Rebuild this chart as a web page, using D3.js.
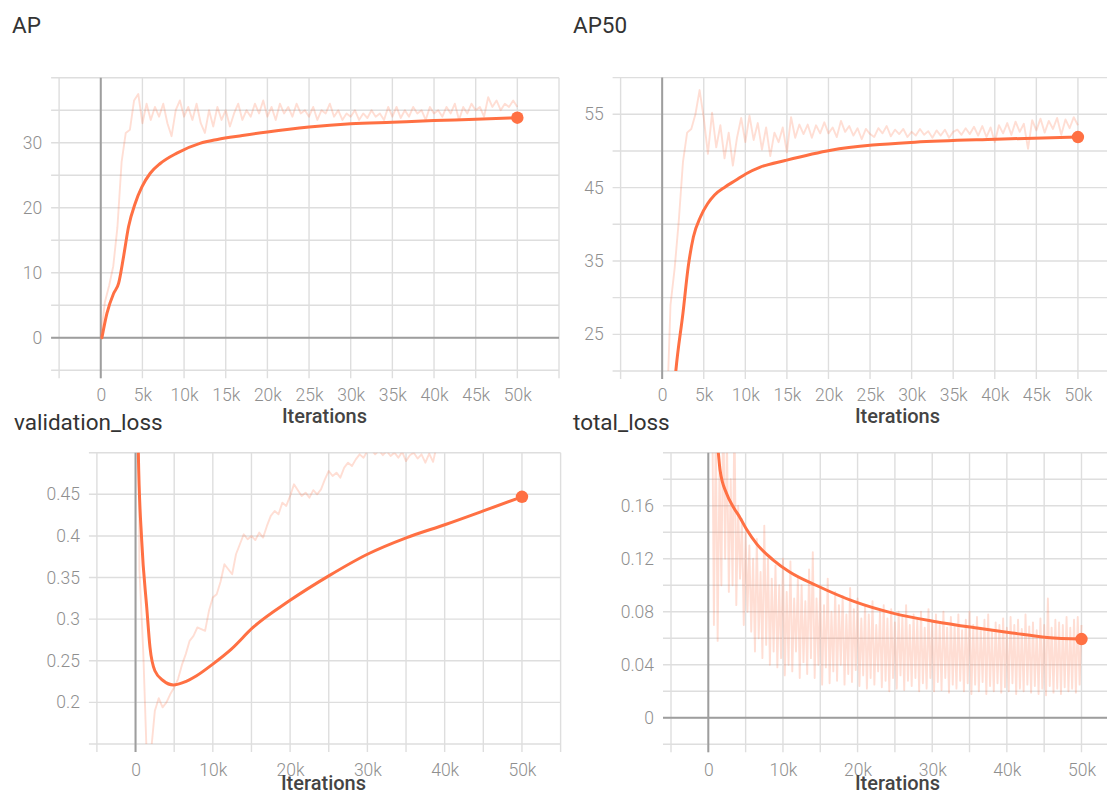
<!DOCTYPE html>
<html>
<head>
<meta charset="utf-8">
<script src="https://cdn.jsdelivr.net/npm/d3@7"></script>
<style>
  body { margin: 0; background: #fff; }
  svg { display: block; }
</style>
</head>
<body>
<svg id="chart" width="1107" height="794"></svg>
<script>
// ---------------------------------------------------------------
// Training curves: raw scalar logs (faint) and smoothed runs (bold)
// ---------------------------------------------------------------

const xTicksFine = [0, 5000, 10000, 15000, 20000, 25000, 30000, 35000, 40000, 45000, 50000];
const xTicksCoarse = [0, 10000, 20000, 30000, 40000, 50000];

const apYTicks = [0, 10, 20, 30];
const ap50YTicks = [25, 35, 45, 55];
const valYTicks = [0.2, 0.25, 0.3, 0.35, 0.4, 0.45];
const totalYTicks = [0, 0.04, 0.08, 0.12, 0.16];

// Raw evaluations of AP, one every 500 iterations from 0
const apRaw = [
  0, 5.5, 8, 11, 17, 27, 31.5, 32, 36.5, 37.5,
  33, 36, 33.5, 35.5, 34, 36, 33, 31, 35, 36.5,
  34, 35.5, 33.5, 36, 33, 31.5, 35, 32.5, 35.5, 33.5,
  35, 32.5, 34.5, 36, 33.5, 35, 34, 36, 34.5, 36.5,
  34, 35.5, 33.5, 36, 34.5, 35.5, 34, 36, 34.5, 35,
  34, 35.5, 33.5, 35, 34.5, 36, 34, 35, 33.5, 34.5,
  34, 35, 33.5, 34.5, 33.8, 35, 34, 34.5, 33.5, 35.5,
  34, 35.5, 33.8, 35, 34, 35.5, 34.5, 35, 33.5, 35.5,
  34.5, 35, 34, 35.5, 34.5, 36, 33.5, 35.5, 34.5, 36,
  35, 35.5, 34, 37, 35.5, 36.5, 35, 36, 35.5, 36.5,
  35.5
];
// Smoothed AP: [iteration, value]
const apSmooth = [
  [140, 0], [740, 3.75], [1540, 6.8], [2140, 8.35], [2740, 12.5], [3340, 17.1],
  [4140, 20.7], [4940, 23.2], [5940, 25.3], [7140, 26.8], [9140, 28.4],
  [11900, 29.9], [14000, 30.5], [17000, 31.1], [20000, 31.65], [25000, 32.4],
  [30000, 32.9], [35000, 33.15], [40000, 33.4], [45000, 33.6], [50000, 33.85]
];

// Raw evaluations of AP50, one every 500 iterations from 0
const ap50Raw = [
  0, 12, 29, 34, 40.5, 48.5, 52.5, 53, 55, 58.3,
  54.5, 49.6, 55.2, 50.5, 53.5, 49, 52.5, 48, 51.8, 54.5,
  51.2, 54.8, 51.5, 53.8, 50.2, 53.2, 49.3, 52.5, 51.2, 53.2,
  49.8, 54.6, 51.8, 53.6, 52.3, 53.6, 51.8, 53.5, 52.4, 53.9,
  52.4, 53.2, 51.9, 54.1, 52.6, 53.4, 52.1, 53.1, 51.6, 53,
  52.3, 51.9, 53.1, 52.4, 53.4, 52, 52.9, 52.3, 53, 51.9,
  52.6, 52.1, 53, 52.2, 52.7, 51.8, 52.8, 52.1, 52.9, 51.8,
  52.6, 52.9, 52.2, 53.1, 52.3, 53.3, 52.1, 53.4, 51.9, 53.2,
  51.2, 53.5, 52.4, 53.8, 52.2, 54, 52.6, 53.7, 50.3, 54.2,
  52.8, 54.4, 52.5, 54.1, 53, 54.5, 52.2, 54.3, 53.1, 54.6,
  53.5
];
const ap50Smooth = [
  [0, 0], [500, 4], [1000, 11], [1650, 20.1], [2500, 27.9], [3130, 34.2],
  [3760, 38.3], [4600, 41.0], [5460, 42.8], [6300, 44.0], [7570, 45.1],
  [8850, 46.0], [10100, 46.9], [11800, 47.8], [14800, 48.7], [20300, 50.1],
  [25300, 50.8], [30400, 51.2], [40100, 51.6], [50000, 51.9]
];

// Raw validation loss, one every 500 iterations from 0
const valRaw = [
  1.4, 0.36, 0.26, 0.12, 0.14, 0.19, 0.205, 0.194, 0.2, 0.21,
  0.218, 0.228, 0.245, 0.258, 0.274, 0.28, 0.29, 0.288, 0.286, 0.31,
  0.326, 0.33, 0.345, 0.366, 0.36, 0.354, 0.378, 0.39, 0.402, 0.396,
  0.4, 0.395, 0.404, 0.398, 0.412, 0.424, 0.43, 0.426, 0.44, 0.436,
  0.448, 0.462, 0.455, 0.448, 0.452, 0.446, 0.455, 0.45, 0.456, 0.468,
  0.478, 0.472, 0.476, 0.47, 0.482, 0.488, 0.484, 0.492, 0.498, 0.494,
  0.502, 0.505, 0.498, 0.503, 0.497, 0.502, 0.496, 0.5, 0.494, 0.501,
  0.49, 0.497, 0.5, 0.493, 0.498, 0.488, 0.499, 0.489, 0.51, 0.515,
  0.512, 0.518, 0.515, 0.522, 0.52, 0.528, 0.525, 0.53, 0.534, 0.53,
  0.538, 0.54, 0.536, 0.545, 0.542, 0.548, 0.55, 0.546, 0.555, 0.552,
  0.558
];
const valSmooth = [
  [0, 0.95], [360, 0.5], [800, 0.394], [1450, 0.314], [1870, 0.266], [2500, 0.238],
  [3600, 0.226], [4900, 0.221], [6200, 0.224], [7900, 0.232], [10000, 0.246],
  [12400, 0.264], [15200, 0.29], [19900, 0.322], [25000, 0.352], [30000, 0.378],
  [35100, 0.398], [40200, 0.414], [45000, 0.43], [50000, 0.447]
];

// Raw total loss, one every 250 iterations from 500
const totalRaw = [
  0.26, 0.07, 0.22, 0.058, 0.19, 0.1, 0.24, 0.12, 0.21, 0.095,
  0.18, 0.1, 0.23, 0.085, 0.16, 0.105, 0.15, 0.07, 0.14, 0.08,
  0.13, 0.065, 0.12, 0.05, 0.135, 0.06, 0.11, 0.045, 0.145, 0.055,
  0.12, 0.04, 0.105, 0.05, 0.115, 0.038, 0.1, 0.045, 0.12, 0.032,
  0.095, 0.04, 0.118, 0.035, 0.09, 0.05, 0.105, 0.03, 0.1, 0.042,
  0.088, 0.033, 0.112, 0.045, 0.125, 0.03, 0.09, 0.04, 0.1, 0.025,
  0.085, 0.038, 0.105, 0.026, 0.08, 0.035, 0.095, 0.028, 0.085, 0.04,
  0.092, 0.025, 0.078, 0.033, 0.098, 0.027, 0.082, 0.036, 0.09, 0.024,
  0.075, 0.032, 0.085, 0.022, 0.078, 0.03, 0.088, 0.025, 0.07, 0.035,
  0.08, 0.023, 0.085, 0.028, 0.075, 0.02, 0.082, 0.03, 0.072, 0.022,
  0.08, 0.032, 0.076, 0.021, 0.085, 0.028, 0.07, 0.024, 0.078, 0.03,
  0.074, 0.02, 0.08, 0.026, 0.068, 0.022, 0.082, 0.03, 0.072, 0.02,
  0.078, 0.027, 0.07, 0.021, 0.08, 0.03, 0.068, 0.019, 0.076, 0.025,
  0.07, 0.022, 0.078, 0.028, 0.066, 0.02, 0.074, 0.026, 0.08, 0.018,
  0.07, 0.025, 0.076, 0.02, 0.068, 0.027, 0.074, 0.018, 0.078, 0.024,
  0.066, 0.02, 0.072, 0.026, 0.07, 0.019, 0.075, 0.023, 0.068, 0.02,
  0.076, 0.026, 0.07, 0.018, 0.074, 0.022, 0.067, 0.02, 0.078, 0.025,
  0.069, 0.019, 0.072, 0.024, 0.066, 0.018, 0.075, 0.022, 0.07, 0.017,
  0.09, 0.024, 0.068, 0.019, 0.074, 0.022, 0.072, 0.018, 0.07, 0.023,
  0.076, 0.02, 0.068, 0.022, 0.074, 0.019, 0.076, 0.025, 0.07
];
const totalSmooth = [
  [0, 0.3], [800, 0.23], [1340, 0.2], [1570, 0.187], [2460, 0.169], [3350, 0.159],
  [4250, 0.151], [5140, 0.142], [6500, 0.131], [8700, 0.119], [10900, 0.110],
  [14500, 0.0998], [19500, 0.0878], [24700, 0.079], [30300, 0.0727],
  [36000, 0.0677], [40700, 0.064], [45400, 0.0606], [50000, 0.0594]
];

// ---------------------------------------------------------------
// Layout and styling
// ---------------------------------------------------------------
const ORANGE = "#ff7043";
const GRID = "#dedede";
const ZERO = "#9e9e9e";
const xDomain = [-5000, 55000];
const fmtIter = d => d === 0 ? "0" : (d / 1000) + "k";

const panels = [
  {
    id: "ap", title: "AP", titleX: 12, titleY: 33,
    xRange: [59.1, 559], yDomain: [-5, 40], yRange: [370.2, 77.7],
    yGridStep: 5, yTicks: apYTicks, xTicks: xTicksFine,
    raw: apRaw, rawStart: 0, rawStep: 500, smooth: apSmooth,
    zeroX: true, zeroY: true, tickBase: 401, labelBase: 423, labelX: 324.5
  },
  {
    id: "ap50", title: "AP50", titleX: 573, titleY: 33,
    xRange: [620.6, 1119.5], yDomain: [20, 60], yRange: [371, 77.6],
    yGridStep: 5, yTicks: ap50YTicks, xTicks: xTicksFine,
    raw: ap50Raw, rawStart: 0, rawStep: 500, smooth: ap50Smooth,
    zeroX: true, zeroY: false, tickBase: 401, labelBase: 423, labelX: 897.5
  },
  {
    id: "val", title: "validation_loss", titleX: 14, titleY: 430,
    xRange: [96.9, 560.6], yDomain: [0.15, 0.5], yRange: [744, 452.7],
    yGridStep: 0.05, yTicks: valYTicks, xTicks: xTicksCoarse,
    raw: valRaw, rawStart: 0, rawStep: 500, smooth: valSmooth,
    zeroX: true, zeroY: false, tickBase: 776, labelBase: 790, labelX: 323.5
  },
  {
    id: "total", title: "total_loss", titleX: 573, titleY: 430,
    xRange: [671, 1118.8], yDomain: [-0.02, 0.2], yRange: [744.3, 452.7],
    yGridStep: 0.02, yTicks: totalYTicks, xTicks: xTicksCoarse,
    raw: totalRaw, rawStart: 500, rawStep: 250, smooth: totalSmooth,
    zeroX: true, zeroY: true, tickBase: 776, labelBase: 790, labelX: 897.5
  }
];

const svg = d3.select("#chart");
const defs = svg.append("defs");

panels.forEach(p => {
  const x = d3.scaleLinear().domain(xDomain).range(p.xRange);
  const y = d3.scaleLinear().domain(p.yDomain).range(p.yRange);
  const [left, right] = p.xRange;
  const [bottom, top] = p.yRange;
  const g = svg.append("g").attr("class", "panel-" + p.id);

  // title
  svg.append("text")
    .attr("x", p.titleX).attr("y", p.titleY)
    .attr("font-family", "Roboto, 'Liberation Sans', sans-serif")
    .attr("font-size", 22.5)
    .attr("fill", "#333")
    .text(p.title);

  // grid values
  const xGrid = d3.range(xDomain[0], xDomain[1] + 1, 5000);
  const nY = Math.round((p.yDomain[1] - p.yDomain[0]) / p.yGridStep);
  const yGrid = d3.range(nY + 1).map(i => +(p.yDomain[0] + i * p.yGridStep).toFixed(4));

  g.append("g").selectAll("line.v").data(xGrid).join("line")
    .attr("x1", d => x(d)).attr("x2", d => x(d))
    .attr("y1", top).attr("y2", bottom + 8)
    .attr("stroke", GRID).attr("stroke-width", 1.4);

  g.append("g").selectAll("line.h").data(yGrid).join("line")
    .attr("x1", left - 8).attr("x2", right)
    .attr("y1", d => y(d)).attr("y2", d => y(d))
    .attr("stroke", GRID).attr("stroke-width", 1.4);

  if (p.zeroY) {
    g.append("line")
      .attr("x1", left - 8).attr("x2", right)
      .attr("y1", y(0)).attr("y2", y(0))
      .attr("stroke", ZERO).attr("stroke-width", 2);
  }
  if (p.zeroX) {
    g.append("line")
      .attr("x1", x(0)).attr("x2", x(0))
      .attr("y1", top).attr("y2", bottom + 8)
      .attr("stroke", ZERO).attr("stroke-width", 2);
  }

  // axes: labels only, gridlines are drawn above
  const xAxis = g.append("g")
    .attr("transform", `translate(0,${bottom})`)
    .call(d3.axisBottom(x).tickValues(p.xTicks).tickFormat(fmtIter).tickSize(0));
  xAxis.select(".domain").remove();
  xAxis.selectAll("text").attr("y", p.tickBase - bottom).attr("dy", null);

  const yAxis = g.append("g")
    .attr("transform", `translate(${left - 8},0)`)
    .call(d3.axisLeft(y).tickValues(p.yTicks).tickFormat(d => String(d)).tickSize(0).tickPadding(9));
  yAxis.select(".domain").remove();

  [xAxis, yAxis].forEach(a => a
    .attr("font-family", "Roboto, 'Liberation Sans', sans-serif")
    .attr("font-size", 17.5)
    .attr("font-weight", 300)
    .selectAll("text").attr("fill", "#8f8f8f"));

  // axis title
  g.append("text")
    .attr("x", p.labelX).attr("y", p.labelBase)
    .attr("text-anchor", "middle")
    .attr("font-family", "Roboto, 'Liberation Sans', sans-serif")
    .attr("font-size", 20)
    .attr("font-weight", 500)
    .attr("fill", "#444")
    .text("Iterations");

  // clipping for the series
  const clipId = "clip-" + p.id;
  defs.append("clipPath").attr("id", clipId)
    .append("rect")
    .attr("x", left).attr("y", top)
    .attr("width", right - left).attr("height", bottom - top);

  const series = g.append("g").attr("clip-path", `url(#${clipId})`);

  const rawPts = p.raw.map((v, i) => [p.rawStart + i * p.rawStep, v]);
  series.append("path")
    .datum(rawPts)
    .attr("fill", "none")
    .attr("stroke", ORANGE)
    .attr("stroke-opacity", 0.23)
    .attr("stroke-width", 1.9)
    .attr("stroke-linejoin", "round")
    .attr("d", d3.line().x(d => x(d[0])).y(d => y(d[1])));

  series.append("path")
    .datum(p.smooth)
    .attr("fill", "none")
    .attr("stroke", ORANGE)
    .attr("stroke-width", 3)
    .attr("stroke-linejoin", "round")
    .attr("stroke-linecap", "round")
    .attr("d", d3.line().curve(d3.curveMonotoneX).x(d => x(d[0])).y(d => y(d[1])));

  const last = p.smooth[p.smooth.length - 1];
  g.append("circle")
    .attr("cx", x(last[0])).attr("cy", y(last[1]))
    .attr("r", 6.2)
    .attr("fill", ORANGE);
});
</script>
</body>
</html>
